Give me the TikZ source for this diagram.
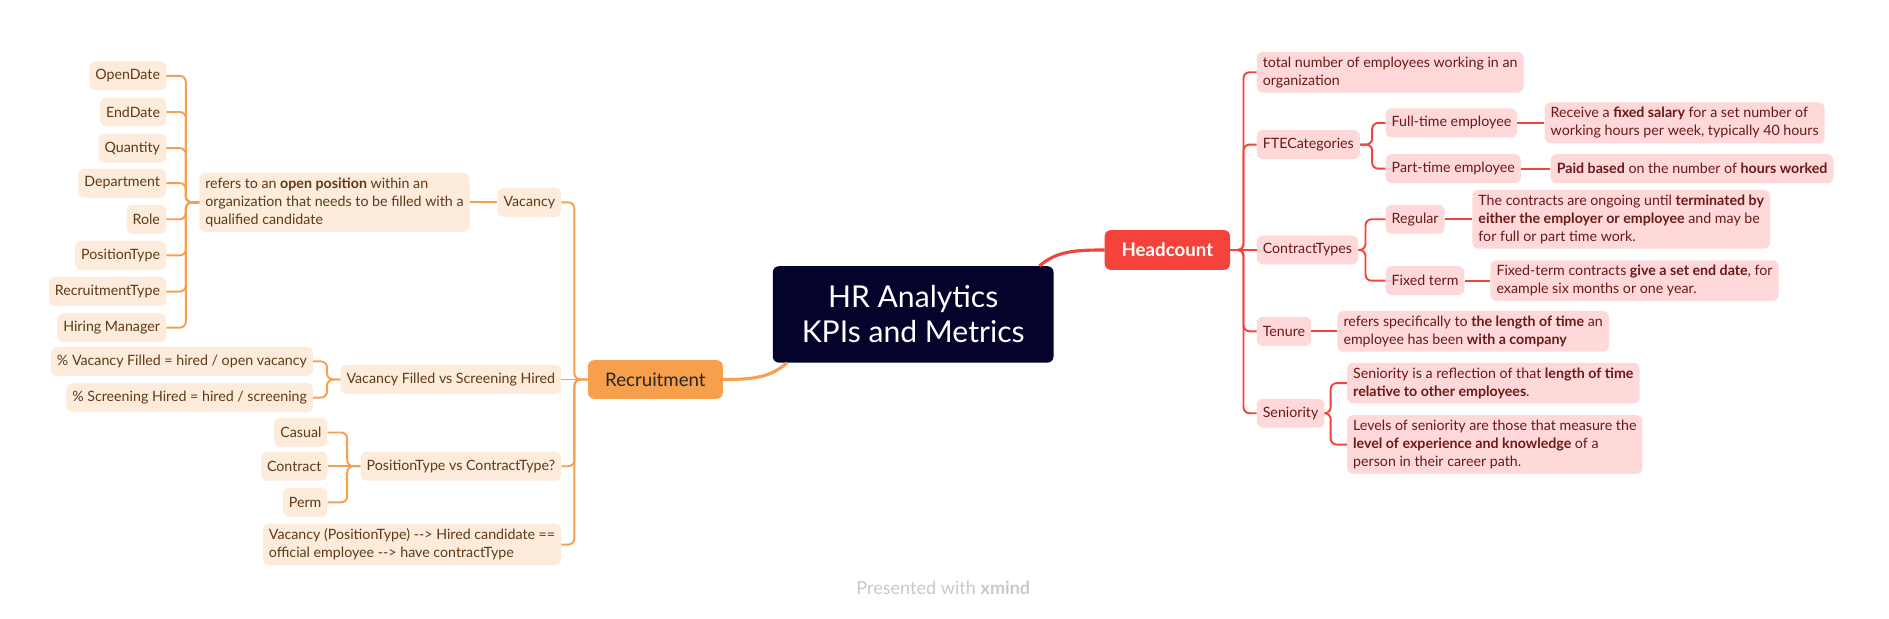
\documentclass[tikz,border=0pt]{standalone}
\usepackage{fontspec}
\setmainfont{Lato}
\definecolor{lfill}{HTML}{FDEBDB}
\definecolor{ltext}{HTML}{5E3A17}
\definecolor{lorange}{HTML}{F6A04D}
\definecolor{rfill}{HTML}{FFD9D9}
\definecolor{rtext}{HTML}{6B1818}
\definecolor{rred}{HTML}{F5433B}
\definecolor{navy}{HTML}{03032B}
\definecolor{mark}{HTML}{C9C9C9}
\begin{document}
\begin{tikzpicture}[x=1pt,y=-1pt]
\tikzset{every node/.style={font=\fontsize{11.8}{15}\selectfont}}
\tikzset{lbox/.style={fill=lfill, text=ltext, rounded corners=5pt, inner xsep=5pt, inner ysep=4pt, minimum height=24pt, align=left}}
\tikzset{rbox/.style={fill=rfill, text=rtext, rounded corners=5pt, inner xsep=5pt, inner ysep=4pt, minimum height=24pt, align=left}}
\tikzset{lline/.style={draw=lorange, line width=1.6pt, rounded corners=5pt}}
\tikzset{rline/.style={draw=rred, line width=1.6pt, rounded corners=5pt}}

\path[use as bounding box, fill=white] (0,0) rectangle (1568,513);

% Nodes for main topics
\node[fill=navy, text=white, rounded corners=5pt, minimum width=233pt, minimum height=80pt, align=center, font=\fontsize{25}{29}\selectfont] at (758,261) (HR) {HR Analytics\\KPIs and Metrics};
\node[fill=rred, text=white, rounded corners=5pt, minimum width=104pt, minimum height=33pt, font=\fontsize{15.5}{18}\selectfont\bfseries] at (969,207.5) (Headcount) {Headcount};
\node[fill=lorange, text=black!85, rounded corners=5pt, minimum width=112pt, minimum height=32pt, font=\fontsize{15.5}{18}\selectfont] at (544,315) (Recruitment) {Recruitment};

% Nodes for recruitment
\node[lbox, anchor=east] at (466,168) (Vacancy) {Vacancy};
\node[lbox, anchor=east] at (466,315) (FilledHired) {Vacancy Filled vs Screening Hired};
\node[lbox, anchor=east] at (466,387) (PosCon) {PositionType vs ContractType?};
\node[lbox, anchor=east] at (466,452) (VacNote) {Vacancy (PositionType) {-}{-}> Hired candidate ==\\official employee {-}{-}> have contractType};

\node[lbox, anchor=east] at (390,168) (VacDesc) {refers to an \textbf{open position} within an\\organization that needs to be filled with a\\qualified candidate};
\node[lbox, anchor=east] at (138,63) (OpenDate) {OpenDate};
\node[lbox, anchor=east] at (138,93) (EndDate) {EndDate};
\node[lbox, anchor=east] at (138,123) (Quantity) {Quantity};
\node[lbox, anchor=east] at (138,152) (Department) {Department};
\node[lbox, anchor=east] at (138,182) (Role) {Role};
\node[lbox, anchor=east] at (138,212) (PositionType) {PositionType};
\node[lbox, anchor=east] at (138,242) (RecruitmentType) {RecruitmentType};
\node[lbox, anchor=east] at (138,272) (HiringManager) {Hiring Manager};

\node[lbox, anchor=east] at (260,300) (PctFilled) {\% Vacancy Filled = hired / open vacancy};
\node[lbox, anchor=east] at (260,330) (PctHired) {\% Screening Hired = hired / screening};

\node[lbox, anchor=east] at (272,359) (Casual) {Casual};
\node[lbox, anchor=east] at (272,387) (Contract) {Contract};
\node[lbox, anchor=east] at (272,417) (Perm) {Perm};

% Nodes for headcount
\node[rbox, anchor=west] at (1043,60) (Total) {total number of employees working in an\\organization};
\node[rbox, anchor=west] at (1043,120) (FTE) {FTECategories};
\node[rbox, anchor=west] at (1043,207.5) (ContractTypes) {ContractTypes};
\node[rbox, anchor=west] at (1043,275) (Tenure) {Tenure};
\node[rbox, anchor=west] at (1043,343) (Seniority) {Seniority};

\node[rbox, anchor=west] at (1150,102) (FullTime) {Full-time employee};
\node[rbox, anchor=west] at (1150,140) (PartTime) {Part-time employee};
\node[rbox, anchor=west] at (1282,102) (FullDesc) {Receive a \textbf{fixed salary} for a set number of\\working hours per week, typically 40 hours};
\node[rbox, anchor=west] at (1287,140) (PartDesc) {\textbf{Paid based} on the number of \textbf{hours worked}};

\node[rbox, anchor=west] at (1150,182) (Regular) {Regular};
\node[rbox, anchor=west] at (1150,233) (FixedTerm) {Fixed term};
\node[rbox, anchor=west] at (1222,182) (RegDesc) {The contracts are ongoing until \textbf{terminated by}\\\textbf{either the employer or employee} and may be\\for full or part time work.};
\node[rbox, anchor=west] at (1237,233) (FixedDesc) {Fixed-term contracts \textbf{give a set end date}, for\\example six months or one year.};

\node[rbox, anchor=west] at (1110,275) (TenDesc) {refers specifically to \textbf{the length of time} an\\employee has been \textbf{with a company}};

\node[rbox, anchor=west] at (1118,318) (SenA) {Seniority is a reflection of that \textbf{length of time}\\\textbf{relative to other employees}.};
\node[rbox, anchor=west] at (1118,369) (SenB) {Levels of seniority are those that measure the\\\textbf{level of experience and knowledge} of a\\person in their career path.};

% Lines for main topics
\draw[rred, line width=2.6pt] (HR.21) .. controls +(14,-12) and +(-26,0) .. (Headcount.west);
\draw[lorange, line width=2.6pt] (HR.201) .. controls +(-14,12) and +(26,0) .. (Recruitment.east);

% Lines for recruitment
\foreach \n in {Vacancy, PosCon, VacNote}
  \draw[lline] (Recruitment.west) -- ++(-11,0) |- (\n.east);
\draw[lline] (Recruitment.west) -- (FilledHired.east);
\draw[lline] (Vacancy.west) -- (VacDesc.east);
\foreach \n in {OpenDate, EndDate, Quantity, Department, Role, PositionType, RecruitmentType, HiringManager}
  \draw[lline] (VacDesc.west) -- ++(-11,0) |- (\n.east);
\foreach \n in {PctFilled, PctHired}
  \draw[lline] (FilledHired.west) -- ++(-11,0) |- (\n.east);
\foreach \n in {Casual, Perm}
  \draw[lline] (PosCon.west) -- ++(-11,0) |- (\n.east);
\draw[lline] (PosCon.west) -- (Contract.east);

% Lines for headcount
\foreach \n in {Total, FTE, Tenure, Seniority}
  \draw[rline] (Headcount.east) -- ++(11,0) |- (\n.west);
\draw[rline] (Headcount.east) -- (ContractTypes.west);
\foreach \n in {FullTime, PartTime}
  \draw[rline] (FTE.east) -- ++(10,0) |- (\n.west);
\foreach \n in {Regular, FixedTerm}
  \draw[rline] (ContractTypes.east) -- ++(6,0) |- (\n.west);
\draw[rline] (FullTime.east) -- (FullDesc.west);
\draw[rline] (PartTime.east) -- (PartDesc.west);
\draw[rline] (Regular.east) -- (RegDesc.west);
\draw[rline] (FixedTerm.east) -- (FixedDesc.west);
\draw[rline] (Tenure.east) -- (TenDesc.west);
\foreach \n in {SenA, SenB}
  \draw[rline] (Seniority.east) -- ++(5,0) |- (\n.west);

% Watermark
\node[text=mark, font=\fontsize{15}{18}\selectfont] at (783,488) (Mark) {Presented with \textbf{xmind}};
\end{tikzpicture}
\end{document}
